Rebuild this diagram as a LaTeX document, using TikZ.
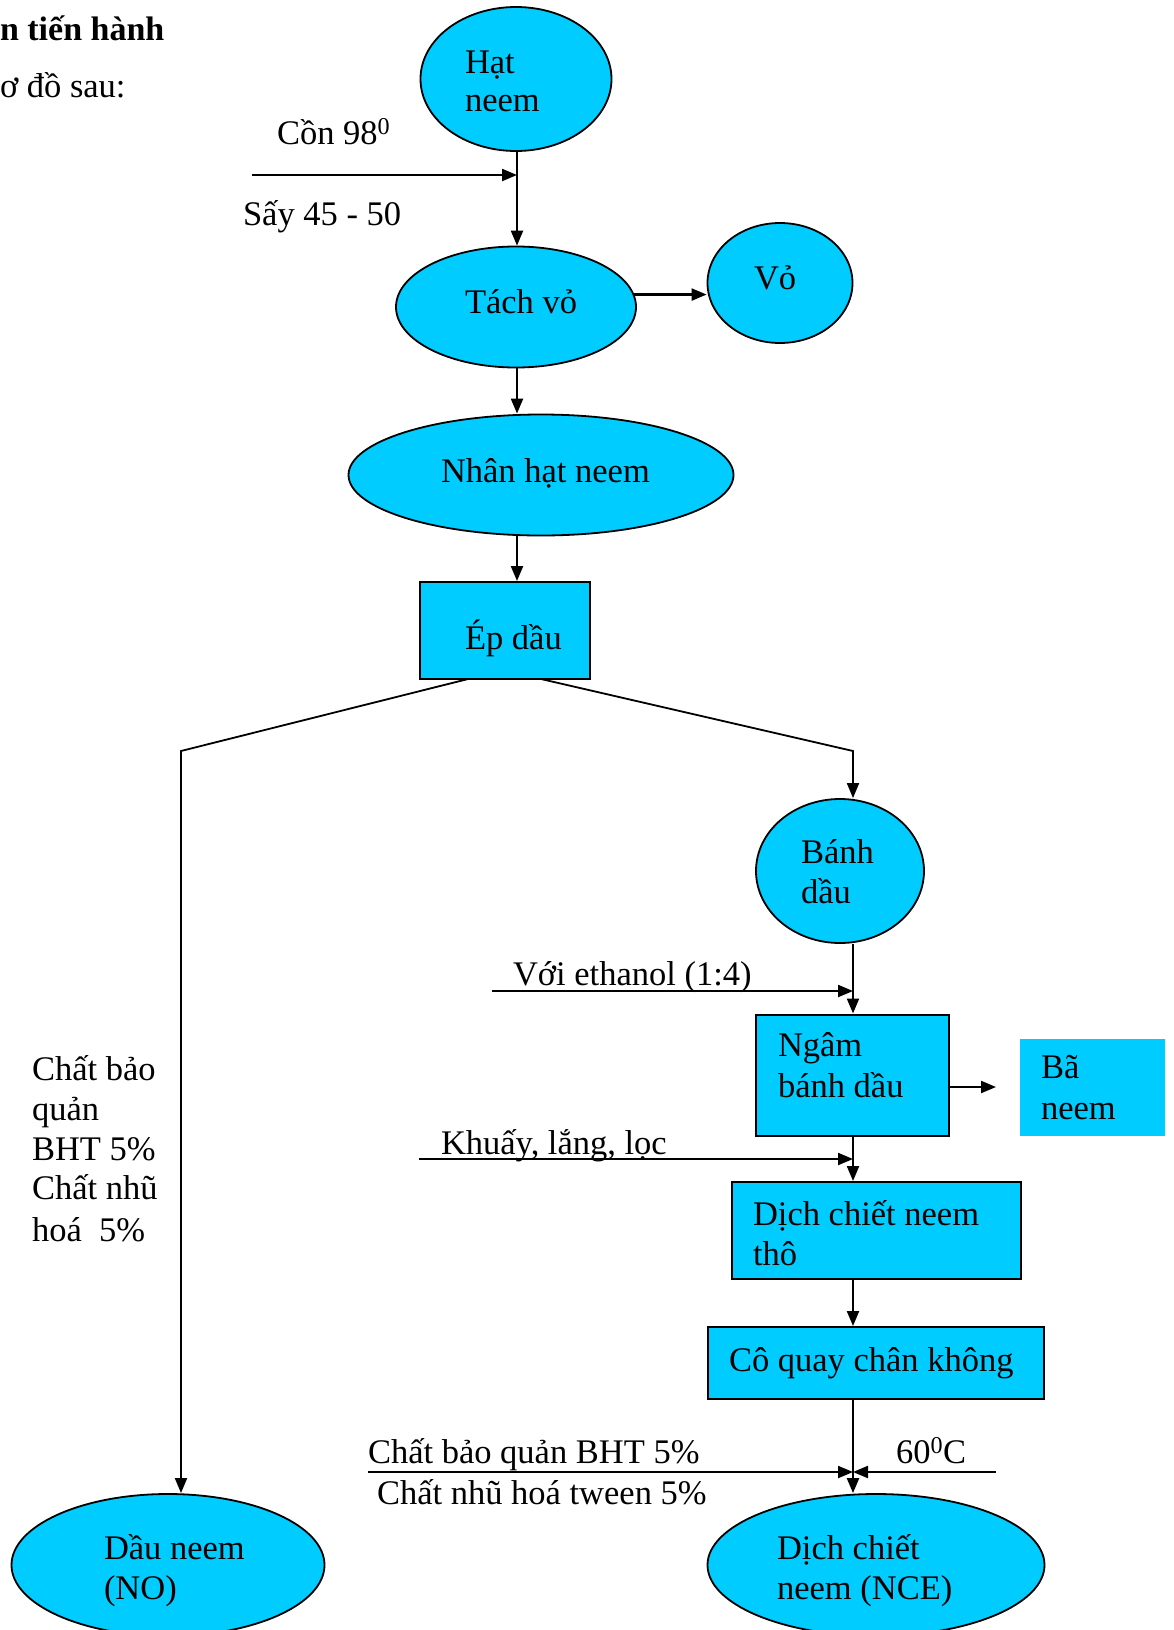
\documentclass[tikz,border=0pt]{standalone}
\usepackage{fontspec}
\setmainfont{Liberation Serif}
\usetikzlibrary{shapes.geometric,arrows.meta,calc}
\definecolor{cy}{RGB}{0,204,255}
\begin{document}
\begin{tikzpicture}[x=1pt,y=-1pt,
  font=\fontsize{34.5}{40}\selectfont,
  ell/.style={ellipse, draw, fill=cy, line width=1.8pt, inner sep=0pt},
  box/.style={rectangle, draw, fill=cy, line width=2pt, inner sep=0pt},
  txt/.style={anchor=base west, inner sep=0pt, outer sep=0pt},
  arr/.style={-{Triangle[length=15pt,width=12pt]}, line width=2.2pt},
  ln/.style={line width=1.6pt}]
\useasboundingbox (0,0) rectangle (1173,1630);
\clip (0,0) rectangle (1173,1630);

% shapes
\node[ell, minimum width=191pt, minimum height=144pt] (hat) at (516,79) {};
\node[ell, minimum width=240pt, minimum height=121pt] (tach) at (516,307) {};
\node[ell, minimum width=145pt, minimum height=120pt] (vo) at (780,283) {};
\node[ell, minimum width=385pt, minimum height=121pt] (nhan) at (541,475) {};
\node[box, minimum width=170pt, minimum height=97pt] (ep) at (505,630.5) {};
\node[ell, minimum width=168pt, minimum height=144pt] (banh) at (840,871) {};
\node[box, minimum width=193pt, minimum height=121pt] (ngam) at (852.5,1075) {};
\node[rectangle, fill=cy, inner sep=0pt, minimum width=145pt, minimum height=97pt] (ba) at (1092.5,1087.5) {};
\node[box, minimum width=289pt, minimum height=97pt] (dich) at (876.5,1230.5) {};
\node[box, minimum width=336pt, minimum height=72pt] (co) at (876,1363) {};
\node[ell, minimum width=313pt, minimum height=142pt] (dau) at (168,1565) {};
\node[ell, minimum width=337pt, minimum height=142pt] (nce) at (876,1565) {};

% texts
\node[txt, font=\fontsize{34}{40}\selectfont\bfseries] (t0) at (0,40) {n tiến hành};
\node[txt] (t1) at (0,97) {ơ đồ sau:};
\node[txt] (that1) at (465,73) {Hạt};
\node[txt] (that2) at (465,111) {neem};
\node[txt] (tcon) at (277,144) {Cồn 98\textsuperscript{0}};
\node[txt] (tsay) at (243,225) {Sấy 45 - 50};
\node[txt] (ttach) at (465,313) {Tách vỏ};
\node[txt] (tvo) at (754,289) {Vỏ};
\node[txt] (tnhan) at (441,482) {Nhân hạt neem};
\node[txt] (tep) at (465,649) {Ép dầu};
\node[txt] (tbanh1) at (801,863) {Bánh};
\node[txt] (tbanh2) at (801,903) {dầu};
\node[txt] (teth) at (513,985) {Với ethanol (1:4)};
\node[txt] (tngam1) at (778,1056) {Ngâm};
\node[txt] (tngam2) at (778,1097) {bánh dầu};
\node[txt] (tba1) at (1041,1078) {Bã};
\node[txt] (tba2) at (1041,1119) {neem};
\node[txt] (tkhuay) at (441,1154) {Khuấy, lắng, lọc};
\node[txt] (tdich1) at (753,1225) {Dịch chiết neem};
\node[txt] (tdich2) at (753,1265) {thô};
\node[txt] (tco) at (729,1371) {Cô quay chân không};
\node[txt] (tbht) at (368,1463) {Chất bảo quản BHT 5\%};
\node[txt] (ttween) at (377,1504) {Chất nhũ hoá tween 5\%};
\node[txt] (t60) at (896,1463) {60\textsuperscript{0}C};
\node[txt] (tdau1) at (104,1559) {Dầu neem};
\node[txt] (tdau2) at (104,1599) {(NO)};
\node[txt] (tnce1) at (777,1559) {Dịch chiết};
\node[txt] (tnce2) at (777,1599) {neem (NCE)};
\node[txt] (tl1) at (32,1080) {Chất bảo};
\node[txt] (tl2) at (32,1120) {quản};
\node[txt] (tl3) at (32,1160) {BHT 5\%};
\node[txt] (tl4) at (32,1199) {Chất nhũ};
\node[txt] (tl5) at (32,1241) {hoá\ \ 5\%};

% coordinates
\coordinate (ax) at (517,0);
\coordinate (cin) at (252,175);
\coordinate (epL) at (468,679);
\coordinate (epR) at (541,679);
\coordinate (bl) at (181,751);
\coordinate (br) at (853,751);
\coordinate (ein) at (492,991);
\coordinate (kin) at (419,1159);
\coordinate (bin) at (368,1472);
\coordinate (hin) at (996,1472);
\coordinate (baout) at (996,1087);

% connectors
\draw[arr] (ax |- hat.south) -- (ax |- tach.north);
\draw[arr] (cin) -- (cin -| ax);
\draw[arr] (tach.6) -- (tach.6 -| vo.west);
\draw[arr] (ax |- tach.south) -- (ax |- nhan.north);
\draw[arr] (ax |- nhan.south) -- (ax |- ep.north);
\draw[arr, line width=1.8pt] (epL) -- (bl) -- (bl |- dau.north);
\draw[arr, line width=1.8pt] (epR) -- (br) -- (br |- banh.north);
\draw[arr] (br |- banh.south) -- (br |- ngam.north);
\draw[arr] (ein) -- (ein -| br);
\draw[arr] (ngam.east |- baout) -- (baout);
\draw[arr] (br |- ngam.south) -- (br |- dich.north);
\draw[arr] (kin) -- (kin -| br);
\draw[arr] (br |- dich.south) -- (br |- co.north);
\draw[arr] (br |- co.south) -- (br |- nce.north);
\draw[arr] (bin) -- (bin -| br);
\draw[arr] (hin) -- (hin -| br);
\end{tikzpicture}
\end{document}
